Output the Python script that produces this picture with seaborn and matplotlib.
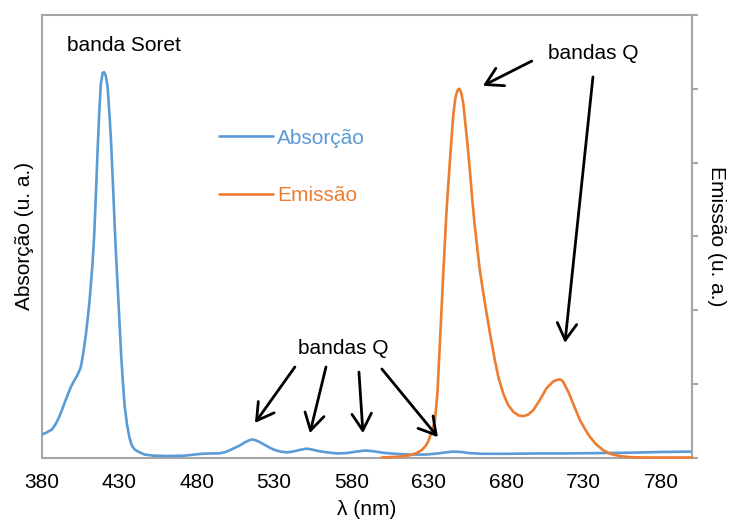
import matplotlib
matplotlib.use('Agg')
import matplotlib.pyplot as plt
import seaborn as sns

# absorption spectrum (left axis, arbitrary units)
abs_wl = [380, 383, 386.5, 389, 391, 393, 395.2, 397, 398.5, 400.5,
          402.8, 405, 406, 407.2, 408.3, 409.4, 410.5, 411.5, 412.6, 413.7,
          414.8, 415.9, 417, 418, 419.2, 420.2, 421.3, 422.4, 423.5, 424.6,
          425.7, 426.8, 427.8, 428.9, 430, 431.1, 432.2, 433.3, 434.9, 436.5,
          438, 439.8, 443, 446.3, 452, 461.5, 472, 483.2, 490, 494.1,
          498, 501, 505, 508, 511, 513.5, 515.5, 518, 521, 524,
          527, 530, 534, 538, 542, 547, 551, 554, 558, 564,
          571, 577, 583, 589, 594, 600, 608, 618, 628, 636,
          641, 646, 651, 656, 664, 680, 700, 720, 740, 760,
          780, 800]
abs_val = [0.062, 0.068, 0.076, 0.092, 0.109, 0.130, 0.155, 0.174, 0.190, 0.206,
           0.223, 0.244, 0.266, 0.299, 0.331, 0.372, 0.415, 0.464, 0.524, 0.600,
           0.711, 0.831, 0.937, 1.013, 1.043, 1.045, 1.034, 1.005, 0.937, 0.858,
           0.755, 0.646, 0.551, 0.464, 0.372, 0.282, 0.209, 0.144, 0.090, 0.054,
           0.033, 0.022, 0.014, 0.008, 0.005, 0.004, 0.005, 0.010, 0.011, 0.011,
           0.014, 0.019, 0.027, 0.033, 0.041, 0.046, 0.049, 0.047, 0.041, 0.034,
           0.027, 0.021, 0.016, 0.014, 0.016, 0.021, 0.024, 0.022, 0.018, 0.014,
           0.011, 0.012, 0.016, 0.019, 0.017, 0.013, 0.010, 0.008, 0.008, 0.011,
           0.014, 0.016, 0.015, 0.012, 0.010, 0.010, 0.011, 0.011, 0.012, 0.013,
           0.015, 0.016]

# emission spectrum (right axis, arbitrary units)
em_wl = [599.5, 610, 617.7, 622, 625.3, 628, 629.6, 631.8, 633.9, 635.5,
         637.1, 639.2, 641.4, 643.6, 645.7, 647, 647.9, 648.8, 649.6, 650.5,
         651.3, 652.2, 654.4, 656.5, 658, 659.7, 661.3, 662.9, 665, 667.3,
         670, 672.6, 675, 678, 681, 684.5, 688, 690.9, 694, 697.4,
         701.7, 706, 710.3, 712.5, 714.6, 716.3, 717.9, 720.5, 723.2, 727.5,
         731, 734, 738, 742.6, 747, 753.4, 760, 770, 780, 800]
em_val = [0.0, 0.01, 0.03, 0.06, 0.10, 0.16, 0.22, 0.35, 0.50, 0.87,
          1.55, 2.46, 3.35, 4.03, 4.63, 4.86, 4.94, 4.99, 5.00, 4.97,
          4.90, 4.80, 4.36, 3.89, 3.50, 3.13, 2.83, 2.54, 2.25, 1.95,
          1.62, 1.32, 1.08, 0.87, 0.72, 0.62, 0.57, 0.56, 0.58, 0.64,
          0.78, 0.94, 1.03, 1.05, 1.06, 1.04, 0.98, 0.87, 0.73, 0.51,
          0.38, 0.28, 0.18, 0.10, 0.05, 0.02, 0.005, 0.0, 0.0, 0.0]

x_ticks = [380, 430, 480, 530, 580, 630, 680, 730, 780]
em_ticks = [0, 1, 2, 3, 4, 5, 6]

blue = '#5B9BD5'
orange = '#ED7D31'
grey = '#A6A6A6'

sns.set_style('white')
plt.rcParams['font.family'] = ['Liberation Sans', 'DejaVu Sans']
plt.rcParams['font.size'] = 15
plt.rcParams['text.color'] = 'black'
plt.rcParams['axes.labelcolor'] = 'black'
plt.rcParams['xtick.labelcolor'] = 'black'

fig = plt.figure(figsize=(7.29, 5.28), dpi=100)
ax = fig.add_axes([42 / 729, 70.5 / 528, 650 / 729, 442.5 / 528])
ax2 = ax.twinx()

sns.lineplot(x=abs_wl, y=abs_val, ax=ax, color=blue, linewidth=1.9,
             label='Absorção', legend=False, zorder=3)
sns.lineplot(x=em_wl, y=em_val, ax=ax2, color=orange, linewidth=1.9,
             label='Emissão', legend=False, zorder=3, clip_on=False)

ax.set_xlim(380, 800)
ax.set_ylim(0, 1.2)
ax2.set_ylim(0, 6)
ax.set_xticks(x_ticks)
ax.set_yticks([])
ax2.set_yticks(em_ticks)
ax2.set_yticklabels([])
ax.tick_params(axis='x', length=0, pad=11, labelsize=15, labelcolor='black')
ax2.tick_params(axis='y', direction='out', length=4, width=1.5, color=grey, right=True)

for sp in ax.spines.values():
    sp.set_color(grey)
    sp.set_linewidth(1.5)
for name, sp in ax2.spines.items():
    sp.set_visible(name == 'right')
    sp.set_color(grey)
    sp.set_linewidth(1.5)

ax.set_xlabel('λ (nm)', fontsize=15, labelpad=6, color='black')
ax.set_ylabel('Absorção (u. a.)', fontsize=15, labelpad=6, color='black')
ax2.set_ylabel('Emissão (u. a.)', fontsize=15, rotation=270, labelpad=17, color='black')

# legend with coloured text
handles = ax.get_lines()[:1] + ax2.get_lines()[:1]
leg = ax2.legend(handles=handles, labels=['Absorção', 'Emissão'], loc='center left',
                 bbox_to_anchor=(0.272, 0.6565), frameon=False, fontsize=15,
                 handlelength=2.6, handletextpad=0.2, labelspacing=1.85,
                 borderpad=0, borderaxespad=0, labelcolor='linecolor')

# annotations
tr = ('data', 'axes fraction')
arrow = dict(arrowstyle='->, head_length=0.6, head_width=0.35', color='black',
             lw=2.0, mutation_scale=20, shrinkA=0, shrinkB=0)
ax2.text(433, 0.932, 'banda Soret', transform=ax2.get_xaxis_transform(),
         ha='center', va='center', fontsize=15, color='black')
ax2.text(736, 0.914, 'bandas Q', transform=ax2.get_xaxis_transform(),
         ha='center', va='center', fontsize=15, color='black')
ax2.text(574.4, 0.247, 'bandas Q', transform=ax2.get_xaxis_transform(),
         ha='center', va='center', fontsize=15, color='black')

top_arrows = [((696.5, 0.896), (664.9, 0.840)), ((736, 0.860), (717.9, 0.259))]
low_arrows = [((543.4, 0.2045), (517.6, 0.078)), ((563.5, 0.2045), (553.1, 0.055)),
              ((584.8, 0.193), (587.4, 0.055)), ((599.6, 0.200), (635.8, 0.046))]
for start, tip in top_arrows + low_arrows:
    ax2.annotate('', xy=tip, xytext=start, xycoords=tr, textcoords=tr,
                 arrowprops=arrow)

plt.savefig('out.png', dpi=100)
